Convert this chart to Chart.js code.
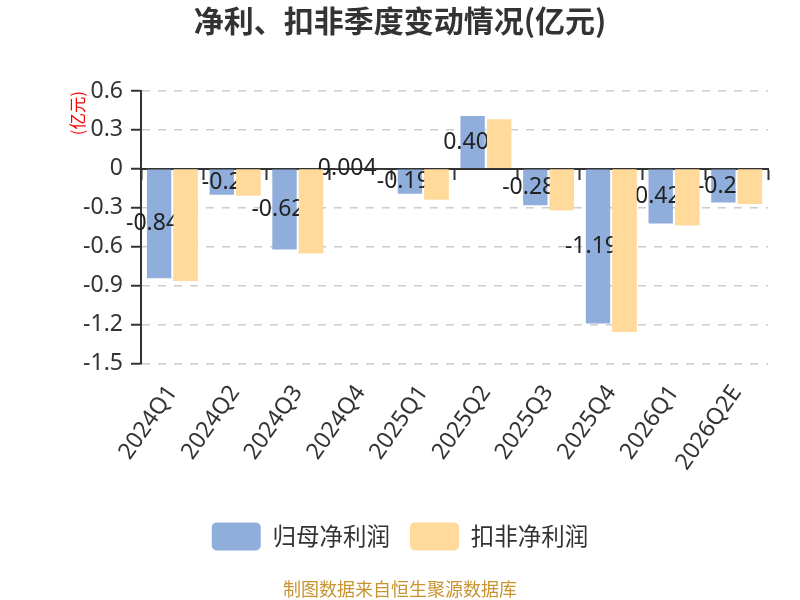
<!DOCTYPE html>
<html>
<head>
    <meta charset="utf-8" />
    <title>净利、扣非季度变动情况</title>
    <script src="https://cdn.jsdelivr.net/npm/chart.js@4.4.1/dist/chart.umd.min.js"></script>
    <style>
        body { margin: 0; background: #ffffff; }
        #box { width: 800px; height: 600px; }
    </style>
</head>
<body>
<div id="box">
    <canvas id="jilu" width="800" height="600"></canvas>
</div>

<script>
    // quarters and values (亿元)
    var quarters = ["2024Q1", "2024Q2", "2024Q3", "2024Q4", "2025Q1", "2025Q2", "2025Q3", "2025Q4", "2026Q1", "2026Q2E"];
    var guimu = [-0.844, -0.2, -0.622, 0.004, -0.192, 0.408, -0.281, -1.192, -0.421, -0.26];
    var koufei = [-0.865, -0.205, -0.65, -0.005, -0.236, 0.38, -0.32, -1.256, -0.435, -0.27];
    var seriesNames = ["归母净利润", "扣非净利润"];
    var yTicks = { min: -1.5, max: 0.6, step: 0.3 };

    var numFont = "'Noto Sans', sans-serif";
    var cjkFont = "'Noto Sans CJK SC', sans-serif";

    // labels of the first series sit in the middle of the bar,
    // the second series is then drawn again so it covers them
    var barLabels = {
        id: "barLabels",
        afterDatasetsDraw: function (chart) {
            var ctx = chart.ctx;
            var meta = chart.getDatasetMeta(0);
            ctx.save();
            ctx.font = "23px " + numFont;
            ctx.fillStyle = "#222";
            ctx.textAlign = "center";
            ctx.textBaseline = "middle";
            meta.data.forEach(function (bar, i) {
                ctx.fillText(String(guimu[i]), bar.x, (bar.y + bar.base) / 2);
            });
            ctx.restore();
            chart.getDatasetMeta(1).data.forEach(function (bar) {
                bar.draw(ctx);
            });
        }
    };

    var ctx = document.getElementById("jilu").getContext("2d");
    var chart = new Chart(ctx, {
        type: "bar",
        data: {
            labels: quarters,
            datasets: [
                {
                    label: seriesNames[0],
                    data: guimu,
                    backgroundColor: "#8FAEDB",
                    borderWidth: 0,
                    barPercentage: 0.92,
                    categoryPercentage: 0.845
                },
                {
                    label: seriesNames[1],
                    data: koufei,
                    backgroundColor: "#FFDA9B",
                    borderWidth: 0,
                    barPercentage: 0.92,
                    categoryPercentage: 0.845
                }
            ]
        },
        options: {
            responsive: false,
            animation: false,
            devicePixelRatio: 1,
            layout: { padding: 0 },
            plugins: {
                title: {
                    display: true,
                    text: "净利、扣非季度变动情况(亿元)",
                    color: "#333",
                    font: { family: cjkFont, size: 30, weight: "bold" },
                    padding: { top: 3, bottom: 52 }
                },
                subtitle: {
                    display: true,
                    position: "bottom",
                    text: "制图数据来自恒生聚源数据库",
                    color: "#C8942F",
                    font: { family: cjkFont, size: 18 },
                    padding: { top: 18, bottom: 0 }
                },
                legend: {
                    position: "bottom",
                    labels: {
                        boxWidth: 49,
                        boxHeight: 28,
                        useBorderRadius: true,
                        borderRadius: 5,
                        padding: 20,
                        color: "#333",
                        font: { family: cjkFont, size: 23.5 }
                    }
                },
                tooltip: { enabled: false }
            },
            scales: {
                x: {
                    ticks: {
                        autoSkip: false,
                        maxRotation: 55,
                        minRotation: 55,
                        padding: 17,
                        color: "#333",
                        font: { family: numFont, size: 23 }
                    },
                    grid: { display: false, drawTicks: false },
                    border: { display: false },
                    afterFit: function (s) { s.height = 139; }
                },
                x0: {
                    type: "category",
                    axis: "x",
                    position: { y: 0 },
                    offset: true,
                    ticks: { display: false },
                    grid: {
                        offset: true,
                        drawOnChartArea: false,
                        drawTicks: true,
                        tickLength: 10,
                        tickColor: "#333",
                        tickWidth: 2
                    },
                    border: { color: "#333", width: 2 }
                },
                y: {
                    min: yTicks.min,
                    max: yTicks.max,
                    title: {
                        display: true,
                        text: "(亿元)",
                        color: "red",
                        align: "end",
                        font: { family: cjkFont, size: 16.5 },
                        padding: { top: 68, bottom: 0 }
                    },
                    ticks: {
                        stepSize: yTicks.step,
                        padding: 8,
                        color: "#333",
                        font: { family: numFont, size: 23 },
                        callback: function (v) { return String(+Number(v).toFixed(1)); }
                    },
                    grid: {
                        color: "#CCCCCC",
                        lineWidth: 1.5,
                        tickLength: 10,
                        tickColor: "#333",
                        tickWidth: 2
                    },
                    border: { color: "#333", width: 2, dash: [8, 8] },
                    afterFit: function (s) { s.width = 141; }
                },
                // empty strip on the right, keeps the plot off the edge
                yr: {
                    type: "linear",
                    axis: "y",
                    position: "right",
                    ticks: { display: false },
                    grid: { display: false },
                    border: { display: false },
                    afterFit: function (s) { s.width = 32; }
                }
            }
        },
        plugins: [barLabels]
    });
</script>
</body>
</html>
